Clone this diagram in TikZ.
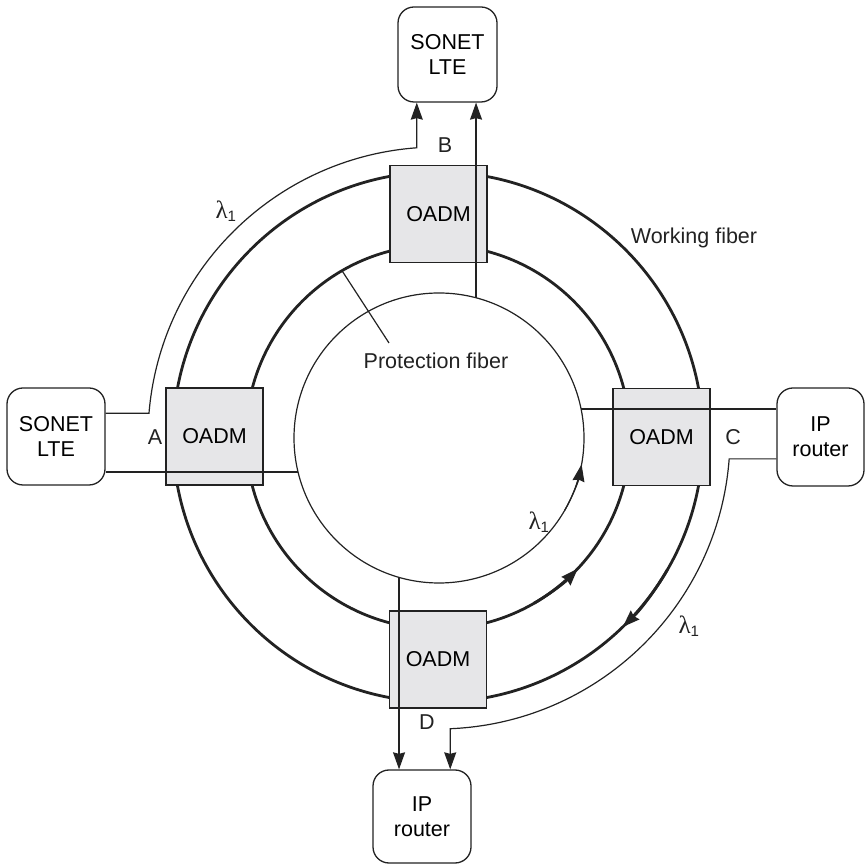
\documentclass[tikz,border=0pt]{standalone}
\usepackage{fontspec}
\setmainfont{Liberation Sans}
\newfontfamily\grk{Liberation Serif}
\usetikzlibrary{arrows.meta}
\definecolor{boxfill}{HTML}{E6E6E8}
\definecolor{ink}{HTML}{222222}
\newcommand{\lamone}{{\grk\fontsize{25}{25}\selectfont λ}\textsubscript{1}}
\begin{document}
\begin{tikzpicture}[x=1pt,y=1pt,
  font=\fontsize{21.5}{25}\selectfont,
  fiber/.style={line width=2.8pt, draw=ink},
  thinline/.style={line width=1.2pt, draw=ink},
  tip/.style={-{Stealth[length=17pt,width=12pt,inset=1.5pt]}},
  oadm/.style={draw=ink, line width=1.3pt, fill=boxfill, minimum width=97pt, minimum height=97pt, inner sep=0pt},
  term/.style={draw=ink, line width=1.3pt, rounded corners=16pt, fill=white, align=center, inner sep=0pt},
  lbl/.style={inner sep=0pt, text=ink}]
\useasboundingbox (0,0) rectangle (866,866);
\coordinate (O) at (438,429);
\coordinate (Oi) at (439,428);
% fibers
\draw[fiber] (O) circle[radius=265];
\draw[fiber] (O) circle[radius=192];
\draw[thinline] (Oi) circle[radius=145];
\draw[fiber, tip] ([shift={(O)}]-30:265) arc[start angle=-30, end angle=-45.8, radius=265];
\draw[fiber, tip] ([shift={(O)}]-60:192) arc[start angle=-60, end angle=-43.3, radius=192];
\draw[thinline, tip] ([shift={(Oi)}]-30:145) arc[start angle=-30, end angle=-10.5, radius=145];
% OADM boxes
\node[oadm] (oB) at (438.5,652) {OADM};
\node[oadm] (oA) at (214.5,429.5) {OADM};
\node[oadm] (oC) at (661.5,429) {OADM};
\node[oadm] (oD) at (438,206.5) {OADM};
% terminals
\node[term, minimum width=99pt, minimum height=95pt] (sonB) at (447.5,811.5) {SONET\\LTE};
\node[term, minimum width=98pt, minimum height=97pt] (sonA) at (56,429.5) {SONET\\LTE};
\node[term, minimum width=87pt, minimum height=98pt] (ipC) at (820.5,429) {IP\\router};
\node[term, minimum width=98pt, minimum height=93pt] (ipD) at (422,49.5) {IP\\router};
% lambda paths
\coordinate (A1) at ([shift={(O)}]175.3:290);
\coordinate (A2) at ([shift={(O)}]94.2:290);
\draw[thinline, tip] (sonA.east |- A1) -- (A1) arc[start angle=175.3, end angle=94.2, radius=290] -- (A2 |- sonB.south);
\coordinate (C1) at ([shift={(O)}]-4.3:292);
\coordinate (C2) at ([shift={(O)}]-87.6:292);
\draw[thinline, tip] (ipC.west |- C1) -- (C1) arc[start angle=-4.3, end angle=-87.6, radius=292] -- (C2 |- ipD.north);
% straight drops
\coordinate (IB) at ([shift={(Oi)}]75.2:145);
\draw[thinline, tip] (IB) -- (IB |- sonB.south);
\coordinate (IA) at ([shift={(Oi)}]193.6:145);
\draw[thinline] (sonA.east |- IA) -- (IA);
\coordinate (IC) at ([shift={(Oi)}]11.5:145);
\draw[thinline] (IC) -- (ipC.west |- IC);
\coordinate (ID) at ([shift={(Oi)}]254:145);
\draw[thinline, tip] (ID) -- (ID |- ipD.north);
% labels
\node[lbl] (lA) at (155,429) {A};
\node[lbl] (lB) at (445,721) {B};
\node[lbl] (lC) at (733,429) {C};
\node[lbl] (lD) at (427,144) {D};
\node[lbl] (l1) at (226,655) {\lamone};
\node[lbl] (l2) at (539,344) {\lamone};
\node[lbl] (l3) at (689,240) {\lamone};
\node[lbl] (wf) at (694,628) {Working fiber};
\node[lbl] (pf) at (436,505) {Protection fiber};
\coordinate (P1) at ([shift={(O)}]120:192);
\coordinate (P2) at (389,523);
\draw[thinline] (P1) -- (P2);
\end{tikzpicture}
\end{document}
